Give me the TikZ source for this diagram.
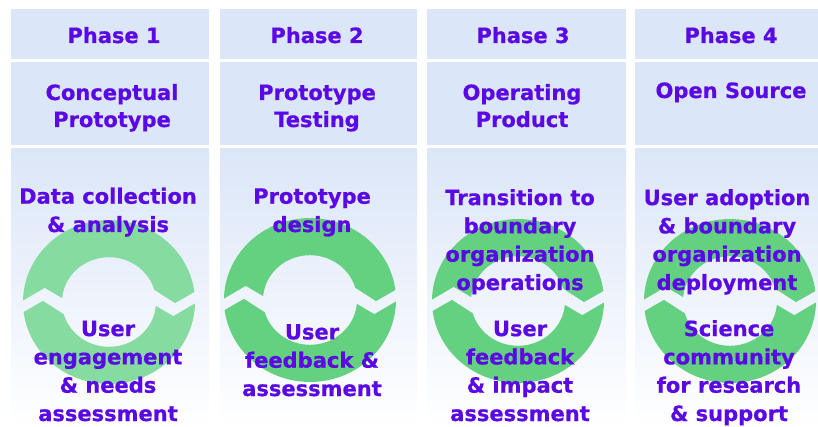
\documentclass[tikz,border=0pt]{standalone}
\usepackage{fontspec}
\setmainfont{DejaVu Sans}
\newfontface\heavyface{DejaVu Sans Bold}[FakeBold=0.6]
\definecolor{boxblue}{RGB}{219,230,248}
\definecolor{txt}{RGB}{90,8,228}
\definecolor{greenA}{RGB}{134,219,160}
\definecolor{greenB}{RGB}{100,209,128}
\tikzset{
  cell/.style={fill=boxblue, draw=none},
  lowcell/.style={top color=boxblue, bottom color=white, draw=none},
  lbl/.style={text=txt, font=\heavyface\fontsize{21}{28.3}\selectfont, align=center, anchor=base, inner sep=0pt},
  hdr/.style={lbl, font=\heavyface\fontsize{21}{27}\selectfont},
}
\newcommand\cycarrow[4]{%
  \begin{scope}[shift={(#1,#2)}, x=1pt, y=0.953pt, rotate=#3]
    \fill[#4] (179:86) -- plot[domain=179:7,samples=60] (\x:86) -- (-1:66) -- (16:47)
      -- plot[domain=16:175,samples=40] (\x:47) -- (167:66) -- cycle;
  \end{scope}}
\begin{document}
\begin{tikzpicture}[x=1pt,y=-1pt]
\useasboundingbox (0,0) rectangle (818,427);
% backgrounds
\foreach \l/\r [count=\i] in {11/209,220/417,427/626,635/818}{
  \fill[cell] (\l,9) rectangle (\r,59);
  \fill[cell] (\l,62) rectangle (\r,145);
  \shade[lowcell] (\l,149) rectangle (\r,427);
}
% cycle arrows
\cycarrow{109}{302}{0}{greenA}
\cycarrow{109}{302}{180}{greenA}
\cycarrow{310}{300}{0}{greenB}
\cycarrow{310}{300}{180}{greenB}
\cycarrow{518}{301}{0}{greenB}
\cycarrow{518}{301}{180}{greenB}
\cycarrow{730}{301}{0}{greenB}
\cycarrow{730}{301}{180}{greenB}
% header texts (anchor = baseline of last line)
\node[hdr] (p1) at (114,43) {Phase 1};
\node[hdr] (p2) at (317,43) {Phase 2};
\node[hdr] (p3) at (523,43) {Phase 3};
\node[hdr] (p4) at (731,43) {Phase 4};
\node[hdr] (t1) at (112,127) {Conceptual\\Prototype};
\node[hdr] (t2) at (317,127) {Prototype\\Testing};
\node[hdr] (t3) at (522,127) {Operating\\Product};
\node[hdr] (t4) at (731,98) {Open Source};
% body texts
\node[lbl] (u1) at (108,232) {Data collection\\\& analysis};
\node[lbl] (u2) at (312,232) {Prototype\\design};
\node[lbl] (u3) at (520,290) {Transition to\\boundary\\organization\\operations};
\node[lbl] (u4) at (727,290) {User adoption\\\& boundary\\organization\\deployment};
\node[lbl] (l1) at (108,421) {User\\engagement\\\& needs\\assessment};
\node[lbl] (l2) at (312,396) {User\\feedback \&\\assessment};
\node[lbl] (l3) at (520,421) {User\\feedback\\\& impact\\assessment};
\node[lbl] (l4) at (729,421) {Science\\community\\for research\\\& support};
\end{tikzpicture}
\end{document}
